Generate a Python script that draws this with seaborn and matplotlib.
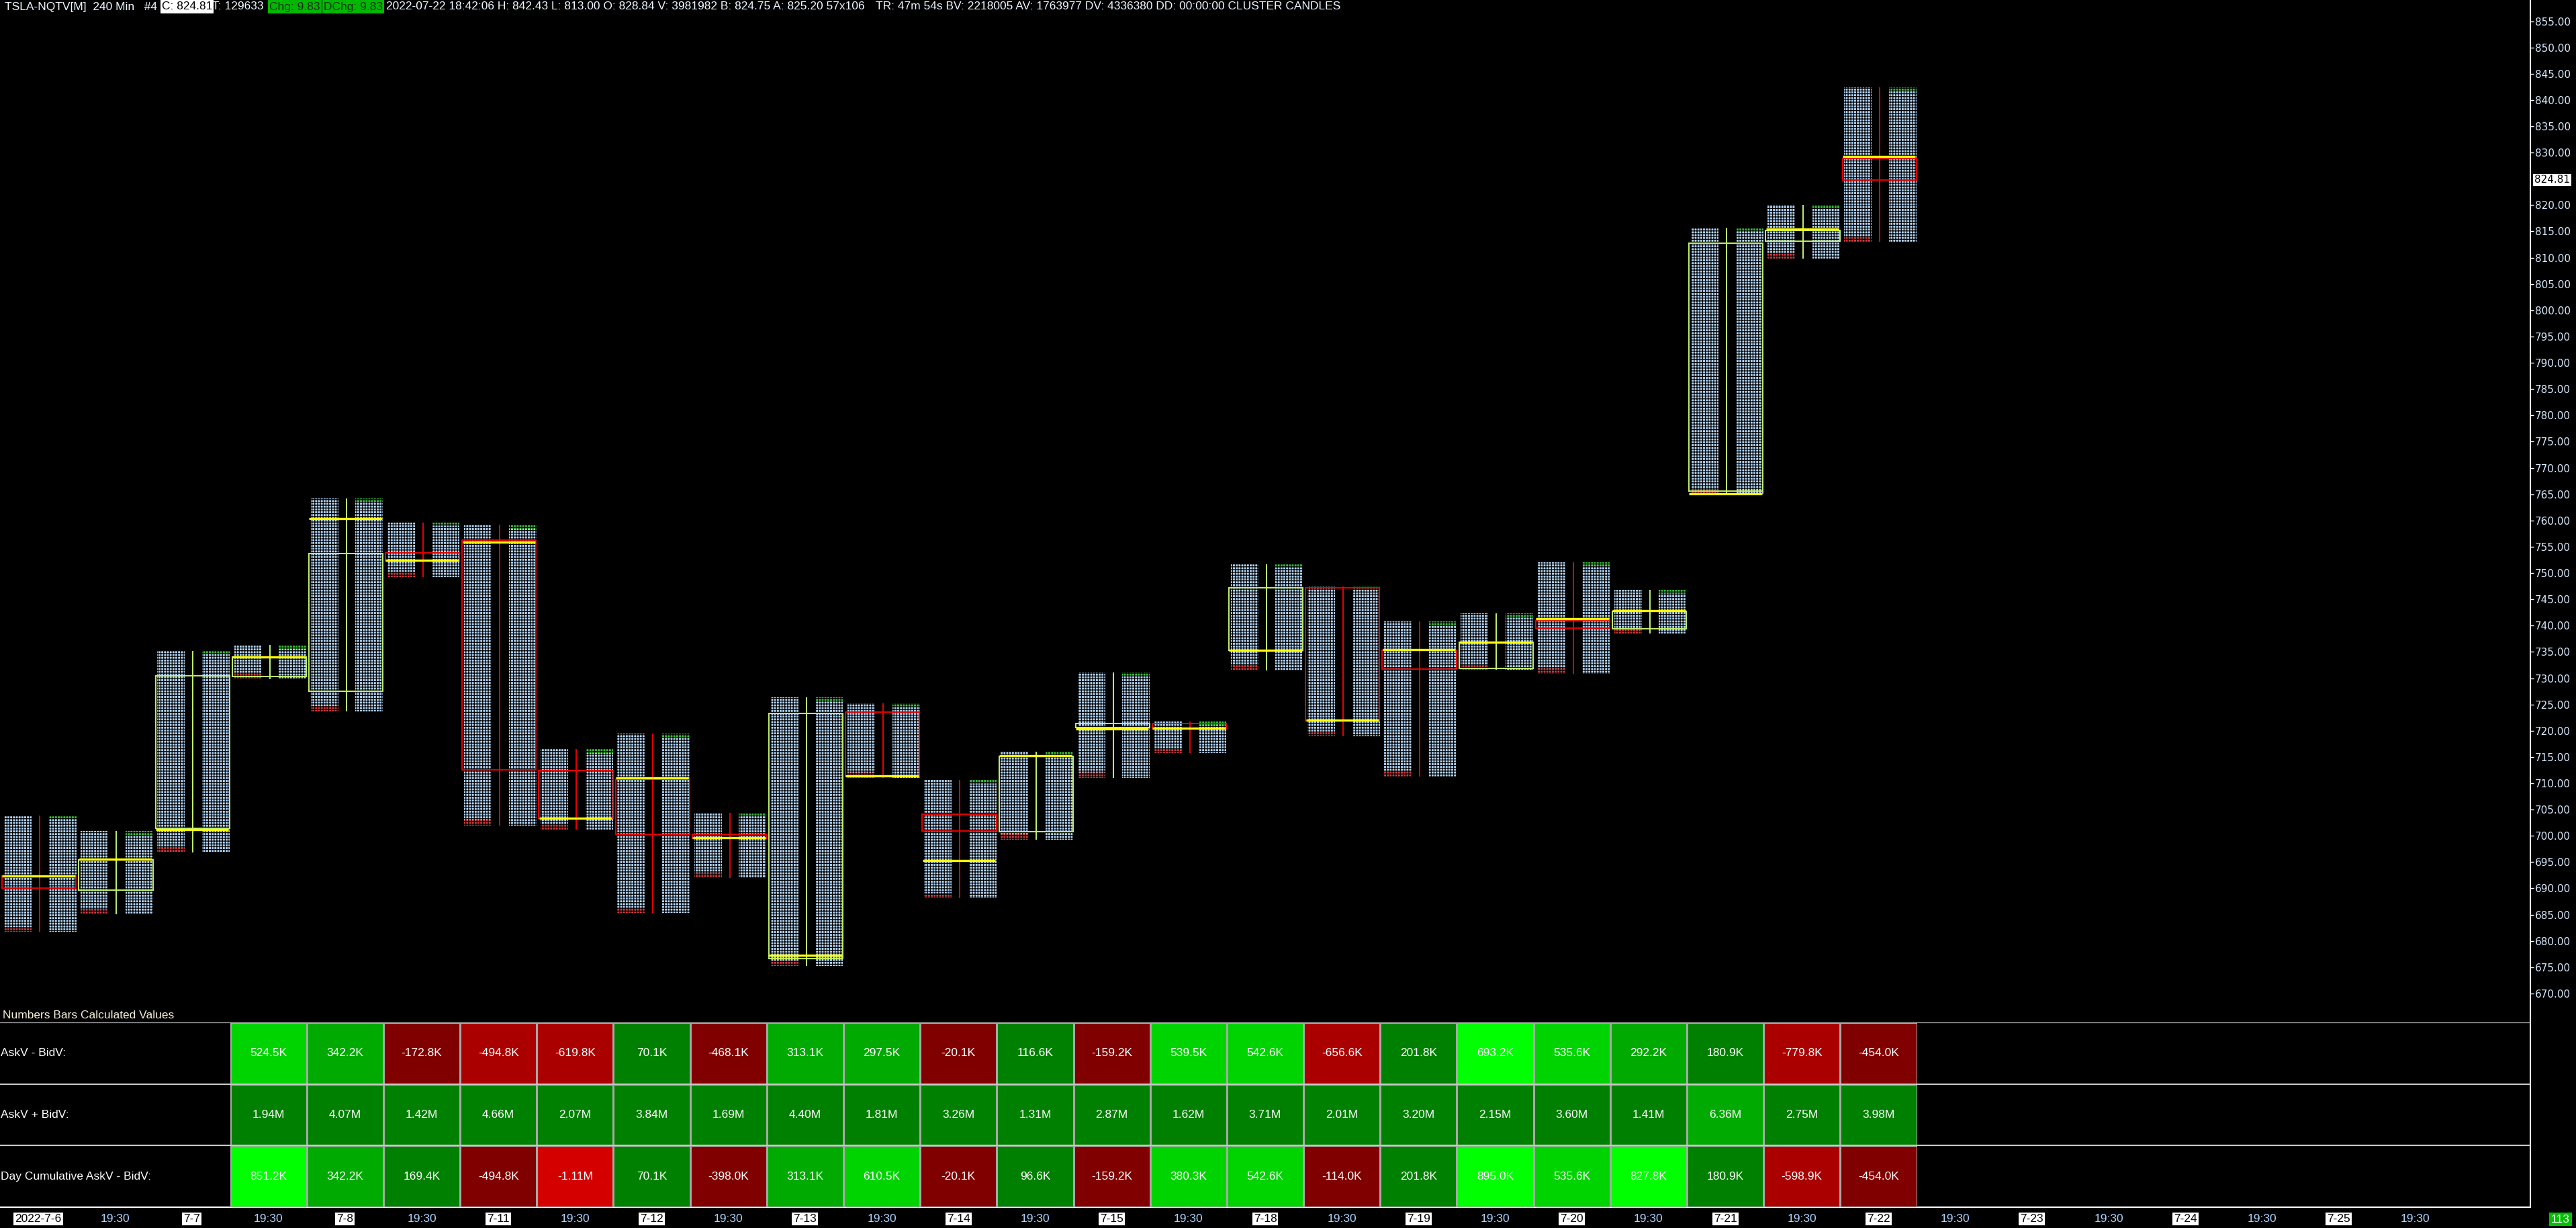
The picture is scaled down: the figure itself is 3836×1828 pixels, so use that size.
import numpy as np
import pandas as pd
import seaborn as sns
import matplotlib.pyplot as plt
from matplotlib.colors import ListedColormap
from matplotlib import transforms

W, H = 3836, 1828

# 240 min cluster candles, TSLA-NQTV, 2022-07-06 .. 2022-07-22
opens = [692.4, 689.7, 701.5, 730.3, 727.5, 753.8, 756.3, 712.4, 710.8, 700.3, 676.6, 723.6, 704.1,
         700.8, 720.6, 721.4, 735.3, 747.2, 735.3, 731.8, 740.9, 739.4, 765.6, 813.2, 828.84]
highs = [703.9, 700.9, 735.2, 736.3, 764.2, 759.6, 759.2, 716.5, 719.5, 704.4, 726.3, 725.2, 710.6,
         716.0, 731.1, 721.8, 751.7, 747.5, 740.8, 742.3, 752.1, 746.8, 815.7, 820.1, 842.43]
lows = [681.7, 685.1, 696.9, 729.8, 723.7, 749.3, 702.0, 701.2, 685.3, 692.0, 675.3, 711.0, 688.2,
        699.3, 711.0, 715.7, 731.5, 718.9, 711.3, 731.6, 730.8, 738.5, 765.0, 809.8, 813.00]
closes = [690.0, 695.4, 730.5, 734.0, 753.7, 752.3, 712.5, 703.3, 700.3, 699.5, 723.3, 711.3, 700.9,
          715.1, 721.4, 720.4, 747.2, 721.9, 731.7, 736.8, 739.5, 742.7, 812.8, 815.2, 824.81]
pocs = [692.4, 695.5, 701.2, 734.0, 760.3, 752.4, 755.9, 703.4, 711.0, 699.6, 677.3, 711.4, 695.3,
        715.3, 720.4, 720.5, 735.3, 722.0, 735.4, 736.8, 741.3, 742.9, 765.1, 815.4, 829.2]
last_price = 824.81

tick_labels = ['2022-7-6', '19:30', '7-7', '19:30', '7-8', '19:30', '7-11', '19:30', '7-12', '19:30',
               '7-13', '19:30', '7-14', '19:30', '7-15', '19:30', '7-18', '19:30', '7-19', '19:30',
               '7-20', '19:30', '7-21', '19:30', '7-22', '19:30', '7-23', '19:30', '7-24', '19:30',
               '7-25', '19:30']
price_ticks = [p for p in range(670, 856, 5) if p != 825]

# numbers bars (thousands), first value belongs to bar 3
first_table_bar = 3
row_names = ['AskV - BidV:', 'AskV + BidV:', 'Day Cumulative AskV - BidV:']
ask_minus_bid = [524.5, 342.2, -172.8, -494.8, -619.8, 70.1, -468.1, 313.1, 297.5, -20.1, 116.6,
                 -159.2, 539.5, 542.6, -656.6, 201.8, 693.2, 535.6, 292.2, 180.9, -779.8, -454.0]
ask_plus_bid = [1940, 4070, 1420, 4660, 2070, 3840, 1690, 4400, 1810, 3260, 1310,
                2870, 1620, 3710, 2010, 3200, 2150, 3600, 1410, 6360, 2750, 3980]
day_cum_delta = [851.2, 342.2, 169.4, -494.8, -1110, 70.1, -398.0, 313.1, 610.5, -20.1, 96.6,
                 -159.2, 380.3, 542.6, -114.0, 201.8, 895.0, 535.6, 827.8, 180.9, -598.9, -454.0]

header_left = 'TSLA-NQTV[M]  240 Min   #4'
header_close = 'C: 824.81'
header_ticks = 'T: 129633'
header_chg = 'Chg: 9.83'
header_dchg = 'DChg: 9.83'
header_rest1 = '2022-07-22 18:42:06 H: 842.43 L: 813.00 O: 828.84 V: 3981982 B: 824.75 A: 825.20 57x106'
header_rest2 = 'TR: 47m 54s BV: 2218005 AV: 1763977 DV: 4336380 DD: 00:00:00 CLUSTER CANDLES'
bar_count = '113'

sns.set_theme(style='dark', rc={'figure.facecolor': 'black', 'axes.facecolor': 'black',
                                'savefig.facecolor': 'black', 'hatch.linewidth': 0.9})
plt.rcParams['font.family'] = ['Liberation Sans', 'DejaVu Sans']

FS = 12.5
BULL, BEAR = '#c2f26c', '#e80000'


def px_rect(x0, y0, x1, y1):
    return [x0 / W, 1 - y1 / H, (x1 - x0) / W, (y1 - y0) / H]


def fmt_vol(v):
    if abs(v) >= 1000:
        return f'{v / 1000:.2f}M'
    return f'{v:.1f}K'


def level(v, green_steps, red_steps):
    if v >= 0:
        return 1 + sum(v >= s for s in green_steps)
    return -(1 + sum(-v >= s for s in red_steps))


fig = plt.figure(figsize=(W / 100, H / 100), dpi=100)

# frame + time axis
ax_base = fig.add_axes(px_rect(0, 0, 3768, 1797))
ax_base.set_facecolor('black')
ax_base.set_xlim(-0.5, 32.5)
ax_base.set_ylim(0, 1)
for s in ['top', 'left']:
    ax_base.spines[s].set_visible(False)
for s in ['right', 'bottom']:
    ax_base.spines[s].set_color('white')
    ax_base.spines[s].set_linewidth(1.4)
ax_base.set_yticks([])
ax_base.set_xticks(range(len(tick_labels)))
ax_base.set_xticklabels(tick_labels)
ax_base.tick_params(axis='x', colors='white', length=4.5, width=1, pad=2.5, labelsize=FS)
for lab in ax_base.get_xticklabels():
    if lab.get_text() == '19:30':
        lab.set_color('#a9d4ff')
    else:
        lab.set_color('black')
        lab.set_bbox(dict(facecolor='white', edgecolor='none', pad=1.5))

# price pane
ax = fig.add_axes(px_rect(0, 0, 3768, 1522))
ax.set_facecolor('none')
ax.set_xlim(-0.5, 32.5)
ax.set_ylim(664.5, 859.03)
for s in ax.spines.values():
    s.set_visible(False)
ax.set_xticks([])
ax.yaxis.tick_right()
ax.set_yticks(price_ticks)
ax.set_yticklabels([f'{p:.2f}' for p in price_ticks])
ax.tick_params(axis='y', colors='white', length=3.5, width=1, pad=1.5, labelsize=11)
for lab in ax.get_yticklabels():
    lab.set_color('#d8ecff')
    lab.set_fontfamily('DejaVu Sans')

o, h, l, c, poc = map(np.array, (opens, highs, lows, closes, pocs))
x = np.arange(len(o))
slot = 114.18
col_w = 41 / slot
left_c = x - 0.5 + 26.5 / slot
right_c = x - 0.5 + 93 / slot
for cx in (left_c, right_c):
    ax.bar(cx, h - l, bottom=l, width=col_w, color='#b4d6f6', edgecolor='black',
           linewidth=0, hatch='++++', zorder=2)
ax.bar(left_c, 1.0, bottom=l, width=col_w, color='#d03a3a', edgecolor='black',
       linewidth=0, hatch='++++', zorder=2.1)
ax.bar(right_c, 0.7, bottom=h - 0.7, width=col_w, color='#38c038', edgecolor='black',
       linewidth=0, hatch='++++', zorder=2.1)

colors = [BULL if cc >= oo else BEAR for oo, cc in zip(o, c)]
top, bot = np.maximum(o, c), np.minimum(o, c)
wx = x + 0.017
ax.vlines(wx, bot, h, colors=colors, linewidth=1.4, zorder=3)
ax.vlines(wx, l, top, colors=colors, linewidth=1.4, zorder=3)
ax.bar(x + 0.01, top - bot, bottom=bot, width=0.965, fill=False, edgecolor=colors,
       linewidth=1.4, zorder=4)
ax.hlines(poc, x - 0.47, x + 0.48, color='#ffff00', linewidth=2.4, zorder=5)

tr = transforms.blended_transform_factory(ax.transAxes, ax.transData)
ax.text(1 + 6 / 3768, last_price, f'{last_price:.2f}', transform=tr, ha='left', va='center',
        fontsize=11, family='DejaVu Sans', color='black',
        bbox=dict(facecolor='white', edgecolor='none', pad=1.2))

# numbers bars table
rows = [ask_minus_bid, ask_plus_bid, day_cum_delta]
steps = [((250, 450, 650), (480, 1000)), ((5000,), ()), ((250, 360, 650), (550, 1000))]
order = [-3, -2, -1, 1, 2, 3, 4]
cmap = ListedColormap(['#d40000', '#aa0000', '#800000', '#008000', '#00aa00', '#00d400', '#00ff00'])
lev = pd.DataFrame([[order.index(level(v, g, r)) for v in vals] for vals, (g, r) in zip(rows, steps)],
                   index=row_names)
annot = np.array([[fmt_vol(v) for v in vals] for vals in rows])

x0 = first_table_bar * slot
ax_heat = fig.add_axes(px_rect(x0, 1522, x0 + len(ask_minus_bid) * slot, 1797))
sns.heatmap(lev, ax=ax_heat, cmap=cmap, vmin=-0.5, vmax=6.5, annot=annot, fmt='',
            annot_kws=dict(color='white', fontsize=FS), linewidths=1, linecolor='#a8a8a8',
            cbar=False, xticklabels=False, yticklabels=False)

ax_tab = fig.add_axes(px_rect(0, 1522, 3768, 1797))
ax_tab.set_facecolor('none')
ax_tab.set_xlim(-0.5, 32.5)
ax_tab.set_ylim(3, 0)
ax_tab.axis('off')
ax_tab.hlines([0, 1, 2], -0.5, 32.5, color='#c8c8c8', linewidth=1.6)
for i, name in enumerate(row_names):
    ax_tab.text(-0.49, i + 0.5, name, ha='left', va='center', fontsize=FS, color='white')

fig.text(4 / W, 1 - 1511 / H, 'Numbers Bars Calculated Values', ha='left', va='center',
         fontsize=FS, color='#f4f0d8')

# header line
hy = 1 - 10 / H
fig.text(7 / W, hy, header_left, ha='left', va='center', fontsize=FS, color='#eef6ff')
fig.text(241 / W, hy, header_close, ha='left', va='center', fontsize=FS, color='black',
         bbox=dict(facecolor='white', edgecolor='none', pad=1.5))
fig.text(316 / W, hy, header_ticks, ha='left', va='center', fontsize=FS, color='#eef6ff')
fig.text(401 / W, hy, header_chg, ha='left', va='center', fontsize=FS, color='#103010',
         bbox=dict(facecolor='#00b800', edgecolor='none', pad=1.5))
fig.text(482 / W, hy, header_dchg, ha='left', va='center', fontsize=FS, color='#103010',
         bbox=dict(facecolor='#00b800', edgecolor='none', pad=1.5))
fig.text(575 / W, hy, header_rest1, ha='left', va='center', fontsize=FS, color='#eef6ff')
fig.text(1304 / W, hy, header_rest2, ha='left', va='center', fontsize=FS, color='#eef6ff')

fig.text(3813 / W, 1 - 1815 / H, bar_count, ha='center', va='center', fontsize=FS,
         color='white', bbox=dict(facecolor='#00c000', edgecolor='none', pad=2))

fig.savefig('out.png', dpi=100, facecolor='black')
